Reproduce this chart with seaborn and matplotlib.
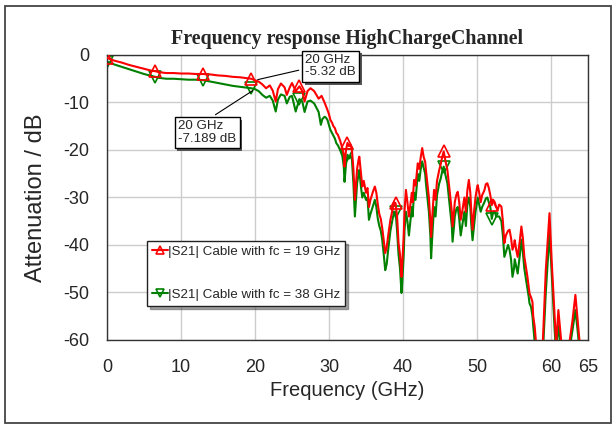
import numpy as np
import pandas as pd
import matplotlib
matplotlib.use('Agg')
import matplotlib.pyplot as plt
import matplotlib.patheffects as pe
from matplotlib.patches import Rectangle
import seaborn as sns

# |S21| for the cable with fc = 19 GHz (red)
red_freq = [0, 0.5, 1, 2, 3, 4, 5, 6, 6.5, 7, 8, 9, 10, 11, 12, 13, 14, 15, 16, 17, 18, 19, 19.5,
            20, 20.5, 21, 21.5, 22, 22.4, 22.8, 23.1, 23.5, 24, 24.3, 24.7, 25, 25.5, 26, 26.4,
            26.7, 27.1, 27.5, 28, 28.6, 29, 29.4,
            29.6, 29.8, 30.0, 30.2, 30.4, 30.6, 30.8, 31.0, 31.2, 31.5,
            31.8, 32.0, 32.1, 32.3, 32.5, 32.7, 32.9, 33.1, 33.3, 33.5,
            33.7, 33.8, 34.0, 34.1, 34.3, 34.5, 34.7, 35.0, 35.2, 35.4,
            35.6, 35.8, 36.0, 36.2, 36.4, 36.6, 36.8, 37.0, 37.2, 37.4,
            37.6, 37.8, 38.0, 38.3, 38.6, 38.8, 39.0, 39.2, 39.4, 39.6,
            39.8, 39.9, 40.1, 40.2, 40.4, 40.6, 40.8, 41.0, 41.2, 41.3,
            41.5, 41.7, 42.0, 42.2, 42.4, 42.6, 42.8, 43.0, 43.1, 43.3,
            43.5, 43.7, 43.8, 44.0, 44.2, 44.4, 44.6, 44.9, 45.1, 45.3,
            45.5, 45.7, 46.0, 46.2, 46.4, 46.6, 46.7, 46.9, 47.0, 47.2,
            47.4, 47.6, 47.8, 48.0, 48.2, 48.3, 48.5, 48.7, 48.9, 49.1,
            49.2, 49.4, 49.6, 49.8, 50.0, 50.1, 50.3, 50.5, 50.7, 51.0,
            51.2, 51.4, 51.6, 51.8, 52.0, 52.2, 52.4, 52.6, 52.8, 53.0,
            53.3, 53.5, 53.7, 53.9, 54.2, 54.4, 54.6, 54.8, 55.0, 55.1,
            55.3, 55.5, 55.8, 56.0, 56.2, 56.4, 56.6, 56.8, 57.0, 57.1,
            57.3, 57.5, 57.6, 57.8, 58.0, 58.5, 58.9, 59.3, 59.8, 60.1,
            60.5, 60.7, 61.0, 61.4, 62.0, 62.5, 62.9, 63.3, 63.6, 63.9,
            64.2, 65.0]
red_db = [-0.6, -0.9, -1.2, -1.6, -2.1, -2.5, -2.9, -3.3, -3.4, -3.6, -3.8, -3.8, -3.9, -3.9, -4.0,
          -4.0, -4.1, -4.3, -4.4, -4.6, -4.7, -4.9, -5.0,
          -5.32, -5.6, -6.2, -7.0, -6.4, -7.5, -9.8, -7.2, -6.0, -6.8, -8.4, -6.8, -5.9, -7.6, -6.6,
          -7.6, -9.8, -7.6, -7.0, -7.6, -9.2, -8.6, -10.0,
          -10.8, -11.6, -12.5, -13.7, -14.2, -15.0, -15.4, -16.4, -16.8, -18.0,
          -19.6, -21.0, -23.5, -20.0, -18.5, -19.2, -18.8, -20.0, -24.0, -30.5,
          -26.0, -24.0, -22.0, -21.4, -24.5, -27.7, -26.5, -29.0, -28.0, -32.0,
          -30.5, -29.5, -28.5, -27.7, -29.0, -31.5, -33.5, -34.5, -36.5, -39.0,
          -41.7, -40.5, -38.0, -34.7, -32.5, -31.0, -31.2, -34.0, -39.6, -42.0,
          -46.7, -44.0, -38.0, -33.0, -28.4, -31.0, -34.0, -31.5, -29.0, -31.0,
          -26.3, -27.5, -22.8, -24.0, -21.5, -19.6, -21.5, -22.5, -24.2, -27.0,
          -30.0, -35.0, -38.3, -33.0, -28.4, -30.5, -26.5, -24.2, -23.0, -21.5,
          -20.3, -22.0, -24.2, -27.0, -30.0, -33.0, -36.1, -33.0, -31.0, -29.5,
          -28.8, -31.0, -34.7, -33.0, -31.0, -30.0, -33.0, -28.5, -26.3, -29.0,
          -32.0, -36.8, -33.0, -30.0, -28.0, -27.4, -29.0, -31.0, -29.5, -28.5,
          -27.2, -27.0, -28.0, -29.5, -31.6, -30.5, -31.0, -32.0, -32.6, -31.5,
          -31.9, -35.0, -39.6, -38.0, -37.0, -36.8, -38.5, -41.0, -40.0, -39.0,
          -41.0, -42.5, -39.0, -36.1, -38.5, -42.5, -44.5, -46.5, -49.0, -50.2,
          -51.0, -52.0, -55.0, -57.2, -61.0, -64.0, -60.5, -45.3, -33.3, -43.5,
          -55.1, -61.0, -53.7, -60.5, -63.0, -60.5, -56.0, -50.5, -55.8, -61.0,
          -64.0, -66.0]

# |S21| for the cable with fc = 38 GHz (green)
green_freq = [0, 0.5, 1, 2, 3, 4, 5, 6, 6.5, 7, 8, 9, 10, 11, 12, 13, 14, 15, 16, 17, 18, 19, 19.5,
              20, 20.5, 21, 21.5, 22, 22.4, 22.8, 23.1, 23.5, 24, 24.3, 24.7, 25, 25.5, 26, 26.4,
              26.7, 27.1, 27.5, 28, 28.6, 28.9, 29.1, 29.4,
              29.6, 29.8, 30.0, 30.2, 30.4, 30.6, 30.8, 31.0, 31.2, 31.5,
              31.8, 32.0, 32.1, 32.3, 32.5, 32.7, 32.9, 33.1, 33.3, 33.5,
              33.7, 33.8, 34.0, 34.1, 34.3, 34.5, 34.7, 35.0, 35.2, 35.4,
              35.6, 35.8, 36.0, 36.2, 36.4, 36.6, 36.8, 37.0, 37.2, 37.4,
              37.6, 37.8, 38.0, 38.3, 38.6, 38.8, 39.0, 39.2, 39.4, 39.6,
              39.8, 39.9, 40.1, 40.2, 40.4, 40.6, 40.8, 41.0, 41.2, 41.3,
              41.5, 41.7, 42.0, 42.2, 42.4, 42.6, 42.8, 43.0, 43.1, 43.3,
              43.5, 43.7, 43.8, 44.0, 44.2, 44.4, 44.6, 44.9, 45.1, 45.3,
              45.5, 45.7, 46.0, 46.2, 46.4, 46.6, 46.7, 46.9, 47.0, 47.2,
              47.4, 47.6, 47.8, 48.0, 48.2, 48.3, 48.5, 48.7, 48.9, 49.1,
              49.2, 49.4, 49.6, 49.8, 50.0, 50.1, 50.3, 50.5, 50.7, 51.0,
              51.2, 51.4, 51.6, 51.8, 52.0, 52.2, 52.4, 52.6, 52.8, 53.0,
              53.3, 53.5, 53.7, 53.9, 54.2, 54.4, 54.6, 54.8, 55.0, 55.1,
              55.3, 55.5, 55.8, 56.0, 56.2, 56.4, 56.6, 56.8, 57.0, 57.1,
              57.3, 57.5, 57.6, 57.8, 58.0, 58.5, 58.9, 59.3, 59.8, 60.1,
              60.5, 60.7, 61.0, 61.4, 62.0, 62.5, 62.9, 63.3, 63.6, 63.9,
              64.2, 65.0]
green_db = [-1.4, -1.7, -2.0, -2.5, -3.0, -3.5, -4.0, -4.4, -4.6, -4.8, -5.0, -5.0, -5.1, -5.2, -5.2,
            -5.3, -5.6, -5.9, -6.2, -6.5, -6.7, -6.9, -7.0,
            -7.19, -7.6, -8.4, -9.0, -8.6, -9.6, -11.9, -9.4, -8.3, -8.6, -10.2, -8.8, -8.6, -11.9,
            -9.3, -9.8, -12.0, -9.8, -9.6, -10.2, -12.0, -14.7, -13.5, -13.0,
            -13.2, -13.7, -14.8, -15.8, -16.4, -17.0, -17.6, -18.6, -19.0, -20.0,
            -21.2, -23.5, -26.7, -23.0, -21.0, -21.8, -21.2, -22.0, -27.0, -34.0,
            -29.5, -27.0, -25.0, -24.2, -27.5, -30.0, -29.0, -30.5, -30.0, -34.7,
            -33.5, -32.5, -31.5, -30.5, -32.0, -34.5, -36.0, -37.0, -39.0, -42.0,
            -45.3, -44.0, -41.0, -37.0, -34.5, -33.0, -33.0, -37.0, -42.0, -45.0,
            -50.1, -48.0, -42.0, -37.0, -33.0, -35.0, -38.0, -35.0, -32.0, -34.0,
            -29.0, -30.5, -25.0, -26.5, -24.0, -22.4, -23.8, -25.0, -27.0, -30.0,
            -33.0, -38.0, -42.8, -37.0, -32.0, -34.0, -29.5, -27.0, -26.0, -24.5,
            -23.5, -25.0, -27.0, -30.0, -33.0, -36.0, -39.3, -36.0, -34.0, -32.5,
            -32.0, -34.5, -38.0, -36.0, -34.0, -33.0, -36.0, -31.5, -30.0, -32.0,
            -35.0, -39.0, -36.0, -33.0, -31.0, -30.0, -31.5, -33.0, -32.0, -31.0,
            -30.2, -30.0, -31.0, -32.0, -34.5, -33.0, -33.0, -34.0, -34.0, -34.0,
            -35.0, -38.0, -42.5, -41.5, -40.0, -41.0, -43.0, -46.7, -45.0, -43.0,
            -44.5, -46.0, -42.0, -38.9, -41.5, -45.0, -47.0, -49.0, -51.0, -52.3,
            -53.0, -55.0, -57.0, -60.5, -63.0, -66.0, -63.0, -50.0, -37.5, -46.0,
            -58.0, -63.0, -57.0, -62.0, -65.0, -62.0, -58.0, -53.7, -58.0, -63.0,
            -66.0, -68.0]

marker_freqs = [0, 6.5, 13, 19.5, 26, 32.5, 39, 45.5, 52, 58.5]
x_ticks = [0, 10, 20, 30, 40, 50, 60, 65]
y_ticks = [0, -10, -20, -30, -40, -50, -60]

assert len(red_freq) == len(red_db)
assert len(green_freq) == len(green_db)

red_df = pd.DataFrame({'freq': red_freq, 'db': red_db})
green_df = pd.DataFrame({'freq': green_freq, 'db': green_db})
red_marks = [i for i, f in enumerate(red_freq) if f in marker_freqs]
green_marks = [i for i, f in enumerate(green_freq) if f in marker_freqs]

sns.set_style('white')
plt.rcParams['font.family'] = ['Liberation Sans', 'DejaVu Sans']
plt.rcParams['axes.unicode_minus'] = False

fig = plt.figure(figsize=(6.16, 4.26), dpi=100)
ax = fig.add_axes([0.1737, 0.2019, 0.7808, 0.669])

sns.lineplot(data=red_df, x='freq', y='db', estimator=None, sort=False, ax=ax,
             color='#ff0000', lw=1.5, marker='^', markevery=red_marks, mfc='none',
             mec='#ff0000', ms=8, mew=1.2, zorder=3, label='|S21| Cable with fc = 19 GHz')
sns.lineplot(data=green_df, x='freq', y='db', estimator=None, sort=False, ax=ax,
             color='#008000', lw=1.5, marker='v', markevery=green_marks, mfc='none',
             mec='#008000', ms=8, mew=1.2, zorder=2, label='|S21| Cable with fc = 38 GHz')

ax.set_xlim(0, 65)
ax.set_ylim(-60, 0)
ax.set_xticks(x_ticks)
ax.set_yticks(y_ticks)
ax.grid(True, color='#cccccc', lw=1)
ax.tick_params(length=0, labelsize=13)
ax.tick_params(axis='x', pad=14)
ax.tick_params(axis='y', pad=13)
for s in ax.spines.values():
    s.set_color('#333333')
    s.set_linewidth(1)

ax.set_title('Frequency response HighChargeChannel', fontfamily='Liberation Serif',
             fontweight='bold', fontsize=14.4, pad=8)
ax.set_xlabel('Frequency (GHz)', fontsize=14.5)
ax.set_ylabel('Attenuation / dB', fontsize=17)
ax.xaxis.set_label_coords(0.5, -0.145)
ax.yaxis.set_label_coords(-0.125, 0.5)

leg = ax.legend(loc='upper left', bbox_to_anchor=(0.083, 0.347), fontsize=9.6,
                frameon=True, fancybox=False, shadow=True, framealpha=1, edgecolor='#222222',
                labelspacing=2.3, handlelength=1.2, handletextpad=0.05, borderpad=0.35,
                borderaxespad=0, markerscale=0.7)
leg.get_frame().set_linewidth(1)

shadow = [pe.withSimplePatchShadow(offset=(2, -2), shadow_rgbFace='#555555', alpha=1)]
a1 = ax.annotate('20 GHz\n-5.32 dB', xy=(20, -5.32), xytext=(26.8, 0.2), textcoords='data',
                 ha='left', va='top', fontsize=9.6, linespacing=1.05, annotation_clip=False,
                 bbox=dict(boxstyle='square,pad=0.25', fc='white', ec='black', lw=1),
                 arrowprops=dict(arrowstyle='-', color='black', lw=0.8, relpos=(0, 0.4)),
                 zorder=5)
a1.get_bbox_patch().set_path_effects(shadow)
a2 = ax.annotate('20 GHz\n-7.189 dB', xy=(20, -7.189), xytext=(9.6, -13.7), textcoords='data',
                 ha='left', va='top', fontsize=9.6, linespacing=1.05,
                 bbox=dict(boxstyle='square,pad=0.25', fc='white', ec='black', lw=1),
                 arrowprops=dict(arrowstyle='-', color='black', lw=0.8, relpos=(0.5, 1)),
                 zorder=5)
a2.get_bbox_patch().set_path_effects(shadow)

# outer frame of the picture
fig.patches.append(Rectangle((0.0085, 0.006), 0.984, 0.979, transform=fig.transFigure,
                             fill=False, ec='#444444', lw=1.3))

fig.savefig('out.png', dpi=100)
